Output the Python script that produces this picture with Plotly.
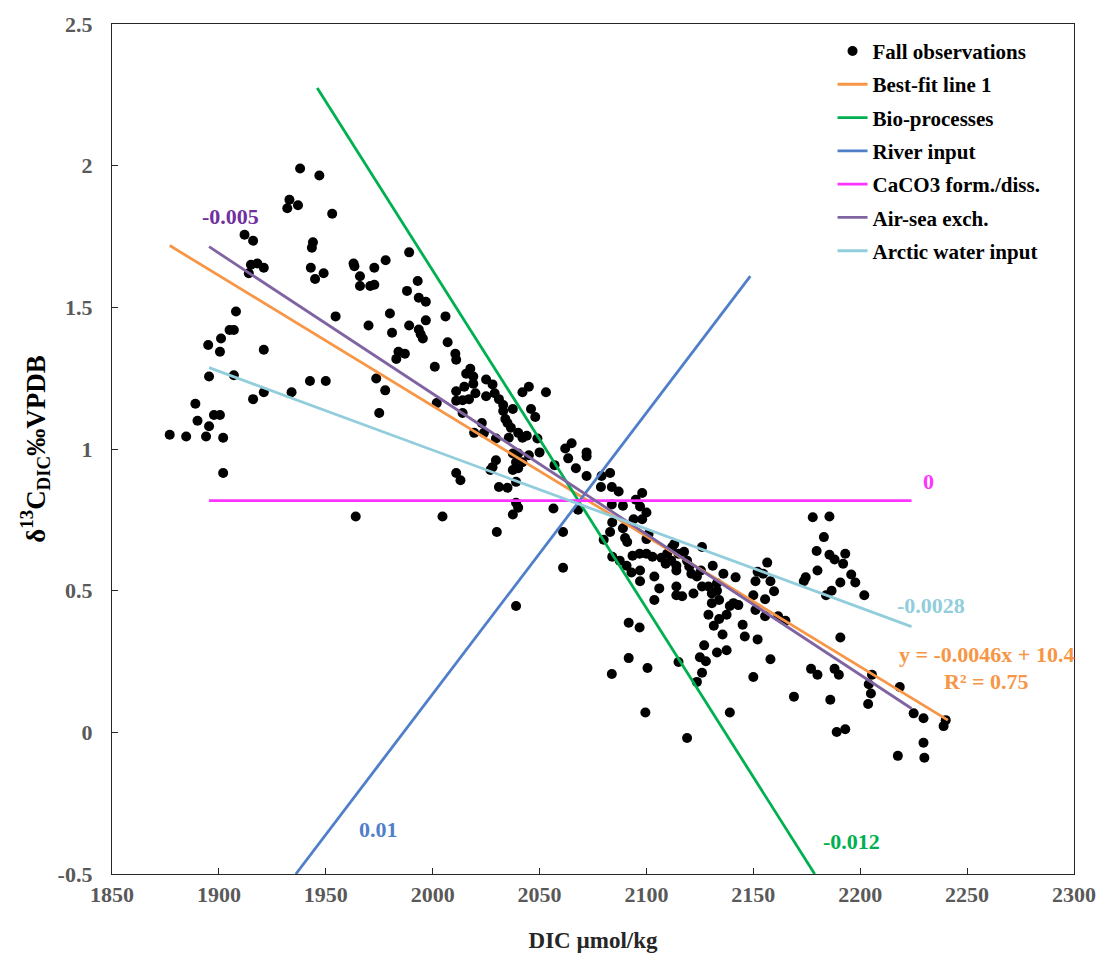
import plotly.graph_objects as go

# ---------------- data ----------------
obs_dic = [
    1938, 1947, 1933, 1937, 1932, 1953, 1912, 1916, 1944, 1943.5, 1915, 1918, 1921, 1914, 1943, 1949, 1945,
    1963, 1963.4, 1966, 1966, 1954.6, 1908, 1907, 1905, 1901, 1895, 1900.5, 1921,
    1895.4, 1907, 1889, 1916, 1921, 1934, 1942.6, 1950, 1897.7, 1900.5, 1890, 1895.4, 1877, 1884.7, 1894,
    1902, 1902, 1964,
    1989, 1978, 1972.7, 1970.8, 1972.7, 1993, 1988, 1993.5, 1996.8, 1980, 2006, 1996.8, 1970, 1989, 1993.5,
    1994.4, 1995.4, 1981, 2007, 1984, 1987, 1983, 2010.6, 2011, 2001, 2017.6, 2015.7, 2019, 2019, 2025, 2028,
    2011, 2014.8, 2020, 2011, 2014, 2017, 2025, 2029, 2031, 2033, 2037.5, 2042, 2045, 2053, 2046, 2048, 2033,
    2034, 2035, 2036.6, 2001.9, 2014, 1973.6, 1977.8, 1975, 2023, 2019.4, 2024, 2040, 2042, 2044, 2049,
    2035.6, 2029.6,
    2004.6, 2011, 2013, 2029.6, 2028, 2027, 2031, 2035, 2039, 2037.5, 2040, 2039, 2042, 2037.5, 2040, 2045,
    2050, 2057, 2039, 2040, 2037.5, 2056.5, 2030, 2061, 2061, 2039,
    2065, 2062, 2072, 2072, 2063.4, 2067, 2072, 2079, 2083, 2078.7, 2083.8, 2087, 2098, 2095, 2097, 2100,
    2098, 2094, 2083.8, 2089, 2068, 2084, 2089, 2083, 2080, 2090, 2091, 2100, 2101, 2084, 2087.5, 2090.7,
    2093.5, 2096.8, 2100, 2102.8, 2107, 2097, 2093, 2097, 2103.7, 2106, 2103.7, 2109, 2109.7, 2112, 2113,
    2115, 2111.6, 2114, 2114, 2117.6, 2119, 2120, 2121, 2125.5, 2123.6, 2126, 2131, 2136, 2141.7, 2114, 2114,
    2116.7, 2122, 2126, 2129, 2130.6, 2133, 2133, 2130.6, 2134, 2140.7, 2139, 2143, 2150, 2151, 2152,
    2091.7, 2096.8, 2091.7, 2100.5, 2083.8, 2115, 2125, 2127.8, 2127, 2133, 2137.5, 2126, 2123.6, 2099.5,
    2139, 2119, 2129, 2134, 2137.5, 2131.5, 2135.6, 2145, 2146, 2152, 2150, 2151,
    2177.8, 2185.6, 2183, 2179.6, 2185.6, 2188, 2193, 2192, 2180, 2195.8, 2197.7, 2201.9, 2190.7, 2174.5,
    2173.6, 2186.6, 2184, 2156.5, 2154.6, 2158, 2159.7, 2155.5, 2155.5, 2161.6, 2165, 2158, 2190.7, 2177, 2188,
    2180, 2190, 2169, 2186, 2205.5, 2204, 2205, 2203.7, 2218.5, 2225, 2229.6, 2240, 2239, 2189, 2193, 2229.6,
    2217.6, 2230,
]
obs_d13c = [
    1.99, 1.965, 1.88, 1.86, 1.85, 1.83, 1.756, 1.735, 1.73, 1.71, 1.65, 1.655, 1.64, 1.62, 1.64, 1.62, 1.60,
    1.655, 1.645, 1.61, 1.575, 1.468, 1.485, 1.42, 1.42, 1.39, 1.367, 1.343, 1.35,
    1.256, 1.26, 1.16, 1.176, 1.20, 1.20, 1.24, 1.24, 1.12, 1.12, 1.10, 1.08, 1.05, 1.044, 1.044,
    1.04, 0.915, 0.762,
    1.694, 1.666, 1.64, 1.575, 1.58, 1.593, 1.558, 1.534, 1.52, 1.478, 1.468, 1.454, 1.436, 1.436, 1.422,
    1.405, 1.39, 1.41, 1.377, 1.343, 1.336, 1.318, 1.336, 1.315, 1.29, 1.283, 1.266, 1.256, 1.23, 1.245, 1.228,
    1.204, 1.22, 1.197, 1.17, 1.172, 1.176, 1.186, 1.197, 1.176, 1.155, 1.141, 1.20, 1.22, 1.20, 1.141, 1.113, 1.134,
    1.106, 1.092, 1.075, 1.162, 1.127, 1.249, 1.207, 1.127, 1.092, 1.057, 1.057, 1.057, 1.04, 1.047, 1.037,
    1.04, 1.037,
    0.762, 0.915, 0.89, 0.96, 0.936, 0.926, 0.866, 0.863, 0.884, 0.926, 0.932, 0.953, 0.953, 0.984, 0.984, 0.978,
    0.988, 0.943, 0.81, 0.793, 0.769, 0.79, 0.707, 0.707, 0.581, 0.446,
    1.02, 1.002, 0.988, 0.974, 0.967, 0.932, 0.905, 0.905, 0.915, 0.866, 0.866, 0.85, 0.845, 0.821, 0.797, 0.776,
    0.752, 0.752, 0.804, 0.80, 0.786, 0.741, 0.72, 0.707, 0.68, 0.686, 0.672, 0.682, 0.70, 0.62, 0.606, 0.588,
    0.623, 0.63, 0.63, 0.62, 0.616, 0.571, 0.564, 0.533, 0.55, 0.508, 0.467, 0.595, 0.63, 0.654, 0.665,
    0.63, 0.606, 0.588, 0.571, 0.637, 0.606, 0.585, 0.56, 0.571, 0.55, 0.654, 0.588, 0.56, 0.547, 0.515, 0.484,
    0.48, 0.49, 0.515, 0.515, 0.49, 0.526, 0.50, 0.456, 0.467, 0.456, 0.446, 0.449, 0.484, 0.533, 0.567,
    0.387, 0.37, 0.262, 0.227, 0.206, 0.248, 0.265, 0.251, 0.307, 0.282, 0.29, 0.21, 0.178, 0.07,
    0.07, -0.02, 0.415, 0.40, 0.415, 0.376, 0.345, 0.38, 0.338, 0.328, 0.195, 0.432,
    0.759, 0.762, 0.689, 0.64, 0.627, 0.61, 0.63, 0.595, 0.571, 0.557, 0.529, 0.484, 0.529, 0.547,
    0.533, 0.50, 0.484, 0.599, 0.56, 0.533, 0.498, 0.47, 0.41, 0.41, 0.394, 0.258, 0.335, 0.224, 0.224,
    0.203, 0.203, 0.126, 0.115, 0.203, 0.17, 0.137, 0.10, 0.16, 0.067, 0.05, 0.043, 0.022, 0.001, 0.011, -0.037,
    -0.083, -0.09,
]

line_names = ["Best-fit line 1", "Bio-processes", "River input", "CaCO3 form./diss.",
              "Air-sea exch.", "Arctic water input"]
line_x = [[1877, 2241], [1946, 2178.7], [1936, 2148.6], [1895.4, 2224], [1895.4, 2224], [1895.4, 2224]]
line_y = [[1.718, 0.043], [2.274, -0.5], [-0.5, 1.61], [0.818, 0.818], [1.714, 0.084], [1.287, 0.373]]
line_colors = ["#F79646", "#00B050", "#4F7FC8", "#FF33FF", "#8064A2", "#92CDDC"]

slope_labels = ["-0.005", "0", "-0.0028", "0.01", "-0.012"]
slope_label_x = [1905.6, 2232, 2233, 1974.5, 2196]
slope_label_y = [1.822, 0.884, 0.449, -0.343, -0.385]
slope_label_colors = ["#7030A0", "#FF33FF", "#92CDDC", "#4F7FC8", "#00B050"]

fit_text = ["y = -0.0046x + 10.4", "R² = 0.75"]
fit_text_x = [2259, 2259]
fit_text_y = [0.275, 0.181]

x_ticks = [1850, 1900, 1950, 2000, 2050, 2100, 2150, 2200, 2250, 2300]
y_ticks = [-0.5, 0, 0.5, 1, 1.5, 2, 2.5]
y_tick_text = ["-0.5", "0", "0.5", "1", "1.5", "2", "2.5"]

FONT = "Liberation Serif"

fig = go.Figure()
fig.add_trace(go.Scatter(
    x=obs_dic, y=obs_d13c, mode="markers", name="Fall observations",
    marker=dict(color="black", size=10), legendgroup="g0"))
for i, (nm, xs, ys, c) in enumerate(zip(line_names, line_x, line_y, line_colors)):
    fig.add_trace(go.Scatter(x=xs, y=ys, mode="lines", name=nm,
                             line=dict(color=c, width=2.8), legendgroup=f"g{i+1}"))

for t, x, y, c in zip(slope_labels, slope_label_x, slope_label_y, slope_label_colors):
    fig.add_annotation(x=x, y=y, text=t, showarrow=False,
                       font=dict(family=FONT, size=22, color=c, weight="bold"))
for t, x, y in zip(fit_text, fit_text_x, fit_text_y):
    fig.add_annotation(x=x, y=y, text=t, showarrow=False,
                       font=dict(family=FONT, size=22, color="#F79646", weight="bold"))

axis_common = dict(showgrid=False, zeroline=False, showline=True, linecolor="#262626", linewidth=1.3,
                   mirror=True, ticks="inside", ticklen=6, tickcolor="#262626",
                   tickfont=dict(family=FONT, size=22, color="#595959", weight="bold"))
fig.update_xaxes(range=[1850, 2300], tickvals=x_ticks,
                 title=dict(text="DIC µmol/kg", font=dict(family=FONT, size=23, color="#262626", weight="bold"),
                            standoff=26),
                 **axis_common)
fig.update_yaxes(range=[-0.5, 2.5], tickvals=y_ticks, ticktext=y_tick_text, ticklabelstandoff=14,
                 title=dict(text="δ<sup>13</sup>C<sub>DIC</sub>‰VPDB",
                            font=dict(family=FONT, size=27, color="black", weight="bold"), standoff=4),
                 **axis_common)

fig.update_layout(
    width=1108, height=961,
    margin=dict(l=112, r=25, t=22, b=76),
    plot_bgcolor="white", paper_bgcolor="white",
    legend=dict(x=0.749, y=0.992, xanchor="left", yanchor="top", bgcolor="rgba(0,0,0,0)",
                font=dict(family=FONT, size=21, color="black", weight="bold"),
                tracegroupgap=3, itemwidth=30),
    showlegend=True,
)
fig.write_html("out.html")
